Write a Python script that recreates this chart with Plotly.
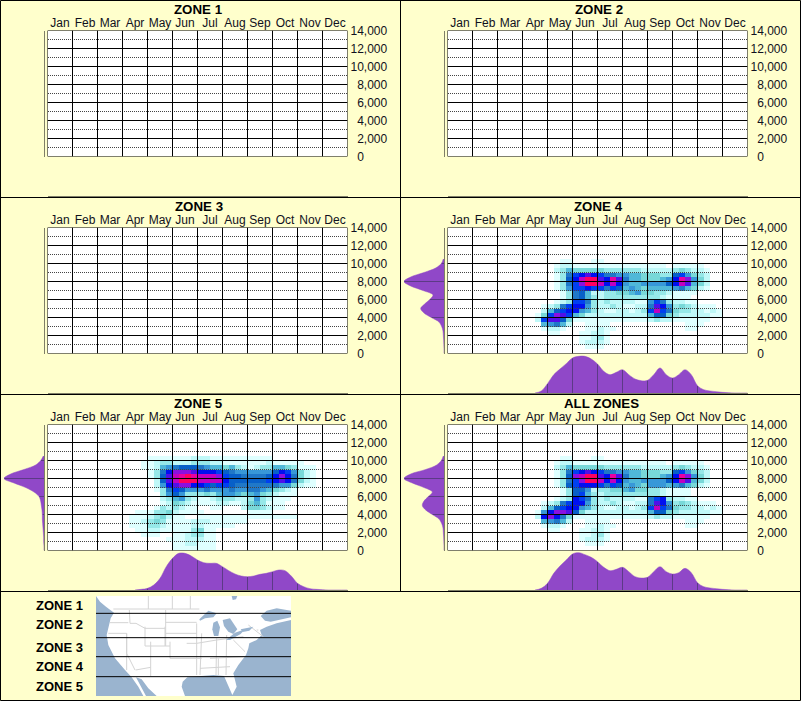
import plotly.graph_objects as go

W, H = 801, 701
MONTHS = ["Jan","Feb","Mar","Apr","May","Jun","Jul","Aug","Sep","Oct","Nov","Dec"]
ELEV_TICKS = list(range(0, 14001, 2000))
ELEV_LABELS = ["\u00a0\u00a00", "\u00a0\u00a02,000", "\u00a0\u00a04,000", "\u00a0\u00a06,000", "\u00a0\u00a08,000", "10,000", "12,000", "14,000"]
ELEV_MINOR = list(range(1000, 14000, 2000))
TITLES = ["ZONE 1", "ZONE 2", "ZONE 3", "ZONE 4", "ZONE 5", "ALL ZONES"]

LEVEL_COLORS = ["#FFFFFF","#DFFFFF","#BFF8F8","#96E8E8","#78D8D8","#50B8D8","#3898D8","#2078C8",
                "#0860C8","#0040F0","#0010F0","#5010E8","#8A10E0","#C000C0","#E800A0","#FF0060"]

# Heat levels (hex digit per cell). Rows run from 10,000-10,500 ft down.
# Text was read on a slightly finer column ruler; DROPPED_READING marks the one reading that repeats a cell.
DROPPED_READING = 12
ZONE4_ROWS = [
 "0000011000111",
 "00001221111111111111111011111",
 "000023544444433333322222343221",
 "0000137" "9aba95776655444338964" "32",
 "0000138adffbaaeb75544456aec642",
 "0000137" "9cffdbada655666" "68adb542",
 "000013699a99779856545555675421",
 "0000013785223334456443321111",
 "000001378532333333333321111",
 "0000123997322322221169732211",
 "0012379aa632323211227ba63432111",
 "002589aa6532211221239d9743322121",
 "0149cb95422222222222" "5884" "3" "22222" "11",
 "029bb84111111111111" "1" "2322" "111111",
 "00567520011111000000000000111",
 "0012210001122110000000000011",
 "00011000112211",
 "00000000112311",
 "00000000122211",
 "000000000111",
]
ALL_ROWS = [
 "0000011000111",
 "00001221111111111111111011111",
 "000023544444433333322222343221",
 "0000137" "9aba95776655444338964" "32",
 "0000138cdffbaaeb75544456aec642",
 "00001379cffdbada65566668adb542",
 "00001389aaa9779856546665675421",
 "000001388623334456443321111",
 "000001389532333333333321111",
 "000012" "3a97322322221179a32211",
 "0012379aa632323211227ba63432111",
 "002589aa6532211221239d9743322121",
 "016accb8422222222222" "5884" "3" "22222" "11",
 "02aca741111111111111" "2322" "111111",
 "00567520011111000000000000111",
 "0012210001122110000000000011",
 "00011000112211",
 "00000000112311",
 "00000000122211",
 "000000000111",
]
ZONE5_ROWS = [
 "000111111122221111111111",
 "00112332223333221111111211111",
 "0011256788876655453212335543111",
 "000137acccbaaaa9876666668a96421",
 "000138bdefeddddc98877778aca7421",
 "000028bdfffddddda8888889aba7421",
 "000026abccaa9989987777777664211",
 "0000137986666766676677654321",
 "0000036863333435665456432111",
 "000002356321112333223632111",
 "00000124321111122112453111",
 "00001323211000110002443211",
 "0111334211110000000" "01111",
 "1112342110011111111111111111",
 "11234311112222111111",
 "111332111122211111",
 "011221111134211",
 "001110011233211",
 "000000111222111",
 "000000011221111",
 "000000011111111",
]

# Density along the months (every quarter month from 3.5), per zone
DENSITY_MONTHS = [3.5 + 0.25 * i for i in range(35)]
ZONE4_BOTTOM = [0,6,28,55,72,88,105,110,110,102,87,65,55,62,70,55,42,37,38,55,75,55,45,55,70,55,22,10,6,4,2,1,0,0,0]
ZONE5_BOTTOM = [0,2,5,15,35,70,95,110,110,102,90,82,80,80,70,58,48,42,40,42,47,50,55,60,58,42,20,10,4,2,1,0,0,0,0]
ALL_BOTTOM   = [0,5,20,50,72,90,108,112,106,98,85,68,58,62,68,55,40,36,38,55,70,55,48,52,65,52,22,10,6,4,2,1,0,0,0]

# Density along the elevation (every 500 ft, from 10,500 down to 0)
DENSITY_ELEV = [10500 - 500 * i for i in range(22)]
ZONE4_LEFT = [2,8,25,60,100,120,100,63,33,43,58,70,60,38,15,7,3,2,1,0.5,0,0]
ZONE5_LEFT = [2,10,25,60,100,120,90,55,30,15,10,8,6,5,5,4,3,2,1,1,0,0]
ALL_LEFT   = [2,8,22,55,100,120,95,60,35,47,60,65,55,35,15,7,3,2,1,0.5,0,0]

# Locator map, in map pixel units
MAP_OCEAN_X = [288, 873, 873, 288]
MAP_OCEAN_Y = [18, 18, 318, 318]
MAP_LAND_X = [288,300,318,342,332,325,320,325,345,375,395,415,430,438,420,408,425,445,470,555,545,548,
              562,600,640,672,685,697,710,700,715,738,745,748,770,785,780,800,830,873,873,288]
MAP_LAND_Y = [18,35,50,68,85,110,135,165,205,240,262,290,318,318,285,262,268,295,318,318,290,275,
              262,258,255,258,290,315,290,250,225,195,175,160,150,135,120,110,100,90,18,18]
MAP_LAKES = [
 ([598,625,650,640,615,600], [88,62,70,82,85,92]),
 ([640,652,660,655,642,637], [98,92,112,138,138,118]),
 ([668,690,712,700,685,672], [90,85,118,132,125,108]),
 ([678,705,735,722,690], [150,128,118,132,150]),
 ([722,745,760,748,728], [118,112,110,122,126]),
 ([695,712,708,698], [18,18,28,30]),
 ([782,800,830,873,873,845,812,795], [78,62,55,62,82,88,95,92]),
]
MAP_STATES_X = [340,598,None,445,445,None,517,517,None,571,571,None,330,385,None,388,390,408,435,495,None,497,497,None,497,590,None,497,590,None,
                435,435,None,495,495,None,435,510,None,510,510,None,380,380,None,325,380,None,380,380,405,None,452,452,None,407,452,None,510,605,None,
                605,600,None,560,590,650,730,None,590,590,None,650,648,None,680,678,None,630,735,None,600,690,None,655,655,None,700,735,None,745,790,None,770,775]
MAP_STATES_Y = [57,57,None,18,57,None,18,57,None,18,57,None,98,98,None,60,100,100,115,115,None,60,168,None,97,97,None,130,130,None,
                110,168,None,110,168,None,168,168,None,155,205,None,130,240,None,130,130,None,130,190,240,None,155,258,None,240,232,None,205,205,None,
                130,255,None,160,160,150,140,None,100,255,None,145,255,None,135,255,None,205,200,None,235,230,None,205,255,None,150,185,None,105,140,None,120,120]
MAP_BANDS = [70, 143, 200, 260]
MAP_LABELS = ["ZONE 1", "ZONE 2", "ZONE 3", "ZONE 4", "ZONE 5"]
MAP_LABEL_ROWS = [605, 624.5, 647.5, 666.7, 686]

HEAT = {3: ZONE4_ROWS, 4: ZONE5_ROWS, 5: ALL_ROWS}
BOTTOM = {3: ZONE4_BOTTOM, 4: ZONE5_BOTTOM, 5: ALL_BOTTOM}
LEFT = {3: ZONE4_LEFT, 4: ZONE5_LEFT, 5: ALL_LEFT}

N_COLS, N_ROWS, TOP_ROW, FIRST_COL = 48, 28, 20, 13
YELLOW, VIOLET, DARK, OLIVE = "#FFFFCC", "#9048C8", "#5C3A86", "#7F7F68"


def decode(rows):
    grid = [[0] * N_COLS for _ in range(N_ROWS)]
    if rows:
        for k, text in enumerate(rows):
            text = text[:DROPPED_READING] + text[DROPPED_READING + 1:]
            for j, ch in enumerate(text):
                grid[TOP_ROW - k][FIRST_COL + j] = int(ch, 16)
    return grid


scale = []
for i, c in enumerate(LEVEL_COLORS):
    scale += [[i / 16, c], [(i + 1) / 16, c]]

dx = lambda p: p / W
dy = lambda p: 1 - p / H
fig = go.Figure()
layout = {}
shapes, notes = [], []
xc = [0.125 + 0.25 * c for c in range(N_COLS)]
yc = [250 + 500 * r for r in range(N_ROWS)]


def seg_lines(fixed, a, b, vertical):
    xs, ys = [], []
    for v in fixed:
        if vertical:
            xs += [v, v, None]; ys += [a, b, None]
        else:
            xs += [a, b, None]; ys += [v, v, None]
    return xs, ys


for p, title in enumerate(TITLES):
    col, row = p % 2, p // 2
    ox, oy = col * 400, row * 197
    n1, n2, n3 = 3 * p + 1, 3 * p + 2, 3 * p + 3
    sx = lambda n: "" if n == 1 else str(n)
    # main heat axes
    layout[f"xaxis{sx(n1)}"] = dict(domain=[dx(ox + 47.5), dx(ox + 347.5)], range=[0, 12], anchor=f"y{sx(n1)}", side="top",
                                    tickmode="array", tickvals=[m + 0.5 for m in range(12)], ticktext=MONTHS,
                                    showgrid=False, zeroline=False, ticks="", automargin=False, tickangle=0,
                                    tickfont=dict(family="Liberation Sans", size=12, color="#101020"))
    layout[f"yaxis{sx(n1)}"] = dict(domain=[dy(oy + 156.5), dy(oy + 30.5)], range=[0, 14000], anchor=f"x{sx(n1)}", side="right",
                                    tickmode="array", tickvals=ELEV_TICKS, ticktext=ELEV_LABELS, ticklabelstandoff=2,
                                    showgrid=False, zeroline=False, ticks="", automargin=False,
                                    tickfont=dict(family="Liberation Sans", size=12, color="#101020"))
    fig.add_trace(go.Heatmap(x=xc, y=yc, z=decode(HEAT.get(p)), zmin=-0.5, zmax=15.5, colorscale=scale, showscale=False,
                             xaxis=f"x{sx(n1)}", yaxis=f"y{sx(n1)}", hoverinfo="skip"))
    xs, ys = seg_lines(ELEV_MINOR, 0.02, 12, False)
    fig.add_trace(go.Scatter(x=xs, y=ys, mode="lines", line=dict(color="#444444", width=1, dash="1px,1px"),
                             xaxis=f"x{sx(n1)}", yaxis=f"y{sx(n1)}", hoverinfo="skip", showlegend=False, cliponaxis=False))
    xa, ya = seg_lines(ELEV_TICKS, 0, 12, False)
    xb, yb = seg_lines(list(range(13)), 0, 14000, True)
    fig.add_trace(go.Scatter(x=xa + xb, y=ya + yb, mode="lines", line=dict(color="#000000", width=1),
                             xaxis=f"x{sx(n1)}", yaxis=f"y{sx(n1)}", hoverinfo="skip", showlegend=False, cliponaxis=False))

    # bottom marginal
    layout[f"xaxis{sx(n2)}"] = dict(domain=[dx(ox + 47.5), dx(ox + 347.5)], range=[0, 12], anchor=f"y{sx(n2)}",
                                    showgrid=False, zeroline=False, showticklabels=False, ticks="", automargin=False,
                                    showline=True, linecolor=OLIVE, linewidth=1)
    layout[f"yaxis{sx(n2)}"] = dict(domain=[dy(oy + 196), dy(oy + 156)], range=[0, 120], anchor=f"x{sx(n2)}", automargin=False,
                                    showgrid=False, zeroline=False, showticklabels=False, ticks="")
    # left marginal
    layout[f"xaxis{sx(n3)}"] = dict(domain=[dx(ox + 4), dx(ox + 44)], range=[120, 0], anchor=f"y{sx(n3)}", automargin=False,
                                    showgrid=False, zeroline=False, showticklabels=False, ticks="")
    layout[f"yaxis{sx(n3)}"] = dict(domain=[dy(oy + 156.5), dy(oy + 30.5)], range=[0, 14000], anchor=f"x{sx(n3)}", side="right",
                                    showgrid=False, zeroline=False, showticklabels=False, ticks="", automargin=False,
                                    showline=True, linecolor=OLIVE, linewidth=1)
    if p in BOTTOM:
        bottom = BOTTOM[p]
        fig.add_trace(go.Scatter(x=DENSITY_MONTHS, y=bottom, mode="lines", fill="tozeroy", fillcolor=VIOLET,
                                 line=dict(color=VIOLET, width=0.5, shape="spline"),
                                 xaxis=f"x{sx(n2)}", yaxis=f"y{sx(n2)}", hoverinfo="skip", showlegend=False))
        mx, my = [], []
        for m in range(4, 11):
            mx += [m, m, None]; my += [0, bottom[DENSITY_MONTHS.index(float(m))] - 1, None]
        fig.add_trace(go.Scatter(x=mx, y=my, mode="lines", line=dict(color=DARK, width=1),
                                 xaxis=f"x{sx(n2)}", yaxis=f"y{sx(n2)}", hoverinfo="skip", showlegend=False))
        left = LEFT[p]
        fig.add_trace(go.Scatter(x=left, y=DENSITY_ELEV, mode="lines", fill="tozerox", fillcolor=VIOLET,
                                 line=dict(color=VIOLET, width=0.5, shape="spline"),
                                 xaxis=f"x{sx(n3)}", yaxis=f"y{sx(n3)}", hoverinfo="skip", showlegend=False))
        ex, ey = [], []
        for e in ELEV_TICKS:
            if e in DENSITY_ELEV and left[DENSITY_ELEV.index(e)] > 2:
                ex += [0, left[DENSITY_ELEV.index(e)] - 1, None]; ey += [e, e, None]
        fig.add_trace(go.Scatter(x=ex, y=ey, mode="lines", line=dict(color=DARK, width=1),
                                 xaxis=f"x{sx(n3)}", yaxis=f"y{sx(n3)}", hoverinfo="skip", showlegend=False))
    else:
        # no sightings: the marginal axes are still drawn, with nothing in them
        fig.add_trace(go.Scatter(x=[0], y=[0], mode="lines", xaxis=f"x{sx(n2)}", yaxis=f"y{sx(n2)}", hoverinfo="skip", showlegend=False))
        fig.add_trace(go.Scatter(x=[0], y=[0], mode="lines", xaxis=f"x{sx(n3)}", yaxis=f"y{sx(n3)}", hoverinfo="skip", showlegend=False))
    notes.append(dict(x=dx(ox + (201 if p == 5 else 198.5)), y=dy(oy + 9), xref="paper", yref="paper", text=f"<b>{title}</b>",
                      showarrow=False, xanchor="center", yanchor="middle",
                      font=dict(family="Liberation Sans", size=13.3, color="#000000")))

# map
layout["xaxis19"] = dict(domain=[dx(96), dx(291)], range=[288, 873], anchor="y19", visible=False, automargin=False)
layout["yaxis19"] = dict(domain=[dy(696), dy(596)], range=[318, 18], anchor="x19", visible=False, automargin=False)
OCEAN = "#9AB4CF"
fig.add_trace(go.Scatter(x=MAP_OCEAN_X, y=MAP_OCEAN_Y, fill="toself", fillcolor=OCEAN, mode="lines", line=dict(width=0),
                         xaxis="x19", yaxis="y19", hoverinfo="skip", showlegend=False))
fig.add_trace(go.Scatter(x=MAP_LAND_X, y=MAP_LAND_Y, fill="toself", fillcolor="#FFFFFF", mode="lines", line=dict(width=0),
                         xaxis="x19", yaxis="y19", hoverinfo="skip", showlegend=False))
fig.add_trace(go.Scatter(x=MAP_STATES_X, y=MAP_STATES_Y, mode="lines", line=dict(color="#D4D4D4", width=1),
                         xaxis="x19", yaxis="y19", hoverinfo="skip", showlegend=False))
for lx, ly in MAP_LAKES:
    fig.add_trace(go.Scatter(x=lx, y=ly, fill="toself", fillcolor=OCEAN, mode="lines", line=dict(width=0),
                             xaxis="x19", yaxis="y19", hoverinfo="skip", showlegend=False))
xs, ys = seg_lines(MAP_BANDS, 288, 873, False)
fig.add_trace(go.Scatter(x=xs, y=ys, mode="lines", line=dict(color="#000000", width=1),
                         xaxis="x19", yaxis="y19", hoverinfo="skip", showlegend=False))
for text, py in zip(MAP_LABELS, MAP_LABEL_ROWS):
    notes.append(dict(x=dx(34), y=dy(py), xref="paper", yref="paper", text=f"<b>{text}</b>", showarrow=False,
                      xanchor="left", yanchor="middle", font=dict(family="Liberation Sans", size=13, color="#000000")))

# panel frames
black = dict(color="#000000", width=1)
for x0, y0, x1, y1 in [(0.5, 0.5, 800.5, 0.5), (0.5, 700.5, 800.5, 700.5), (0.5, 0.5, 0.5, 700.5), (800.5, 0.5, 800.5, 700.5),
                       (400.5, 0.5, 400.5, 591.5), (0.5, 197.5, 800.5, 197.5), (0.5, 394.5, 800.5, 394.5), (0.5, 591.5, 800.5, 591.5)]:
    shapes.append(dict(type="line", xref="paper", yref="paper", x0=dx(x0), x1=dx(x1), y0=dy(y0), y1=dy(y1), line=black, layer="above"))

fig.update_layout(width=W, height=H, margin=dict(l=0, r=0, t=0, b=0, autoexpand=False), paper_bgcolor=YELLOW, plot_bgcolor="rgba(0,0,0,0)",
                  showlegend=False, shapes=shapes, annotations=notes, **layout)
fig.write_html("out.html", config={"displayModeBar": False},
               post_script="document.body.style.margin='0';document.body.style.background='#FFFFCC';")
